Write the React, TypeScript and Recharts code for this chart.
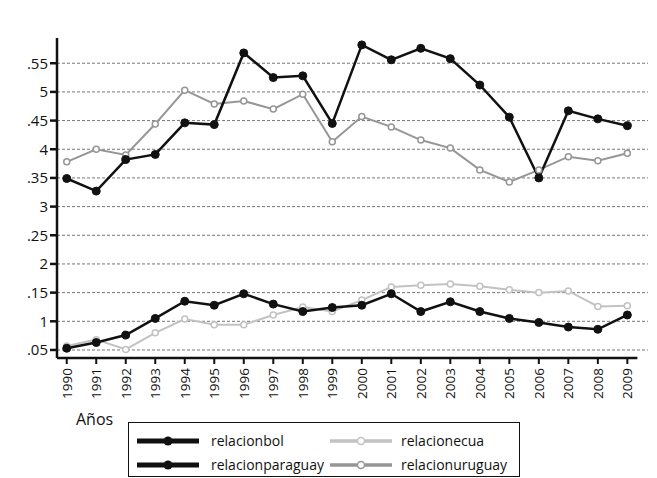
import { LineChart, Line, XAxis, YAxis, ReferenceLine } from "recharts";

const years = [
  1990, 1991, 1992, 1993, 1994, 1995, 1996, 1997, 1998, 1999,
  2000, 2001, 2002, 2003, 2004, 2005, 2006, 2007, 2008, 2009,
];

// upper black line
const relacionbol = [
  0.349, 0.327, 0.382, 0.391, 0.446, 0.443, 0.568, 0.525, 0.528, 0.445,
  0.582, 0.556, 0.576, 0.558, 0.512, 0.456, 0.35, 0.467, 0.453, 0.441,
];
// lower black line
const relacionparaguay = [
  0.053, 0.063, 0.076, 0.105, 0.135, 0.128, 0.148, 0.13, 0.117, 0.124,
  0.128, 0.148, 0.117, 0.134, 0.117, 0.105, 0.098, 0.09, 0.086, 0.111,
];
// lower light grey line
const relacionecua = [
  0.057, 0.068, 0.051, 0.08, 0.104, 0.094, 0.094, 0.111, 0.125, 0.117,
  0.137, 0.16, 0.163, 0.165, 0.161, 0.155, 0.15, 0.153, 0.126, 0.127,
];
// upper grey line
const relacionuruguay = [
  0.378, 0.4, 0.39, 0.444, 0.503, 0.479, 0.484, 0.47, 0.496, 0.413,
  0.457, 0.439, 0.416, 0.402, 0.364, 0.343, 0.364, 0.387, 0.38, 0.393,
];

const yTicks = [0.05, 0.1, 0.15, 0.2, 0.25, 0.3, 0.35, 0.4, 0.45, 0.5, 0.55];
const yLabels = [".05", "1", ".15", "2", ".25", "3", ".35", "4", ".45", "5", ".55"];

const data = years.map((y, i) => ({
  year: y,
  bol: relacionbol[i],
  par: relacionparaguay[i],
  ecu: relacionecua[i],
  uru: relacionuruguay[i],
}));

const FONT = "'Open Sans', 'DejaVu Sans', sans-serif";
const LIGHT = "#c2c2c2";
const MID = "#969696";
const Y_MIN = 0.036;
const Y_MAX = 0.594;
const X_MIN = 1989.67;
const X_MAX = 2009.7;

function YearTick({ x, y, payload }: any) {
  return (
    <g transform={`translate(${x},${y})`}>
      <text
        x={-2}
        y={0}
        dy={5}
        transform="rotate(-90)"
        textAnchor="end"
        fill="#111"
        fontSize={13.5}
        fontFamily={FONT}
      >
        {payload.value}
      </text>
    </g>
  );
}

function HollowDot({ cx, cy, stroke }: any) {
  if (cx == null || cy == null) return null;
  return <circle cx={cx} cy={cy} r={3} fill="#fff" stroke={stroke} strokeWidth={1.5} />;
}

function Sample({ color, hollow }: { color: string; hollow?: boolean }) {
  return (
    <svg width={62} height={12} style={{ display: "block" }}>
      <line x1={0} y1={6} x2={62} y2={6} stroke={color} strokeWidth={hollow ? 3.5 : 5} />
      {hollow ? (
        <circle cx={31} cy={6} r={3.5} fill="#fff" stroke={color} strokeWidth={1.5} />
      ) : (
        <circle cx={31} cy={6} r={4.5} fill={color} />
      )}
    </svg>
  );
}

const legendRows = [
  [
    { name: "relacionbol", color: "#111", hollow: false },
    { name: "relacionecua", color: LIGHT, hollow: true },
  ],
  [
    { name: "relacionparaguay", color: "#111", hollow: false },
    { name: "relacionuruguay", color: MID, hollow: true },
  ],
];

export default function App() {
  return (
    <div
      style={{
        position: "absolute",
        left: 0,
        top: 0,
        width: 657,
        height: 478,
        background: "#fff",
        fontFamily: FONT,
      }}
    >
      <LineChart
        width={657}
        height={478}
        data={data}
        margin={{ top: 38, right: 9, left: 7, bottom: 60 }}
      >
        <XAxis
          dataKey="year"
          type="number"
          domain={[X_MIN, X_MAX]}
          ticks={years}
          interval={0}
          height={60}
          tick={<YearTick />}
          tickSize={6}
          tickLine={{ stroke: "#111", strokeWidth: 2 }}
          axisLine={false}
        />
        <YAxis
          type="number"
          domain={[Y_MIN, Y_MAX]}
          ticks={yTicks}
          interval={0}
          width={50}
          tickSize={7}
          tickLine={{ stroke: "#111", strokeWidth: 2.5 }}
          axisLine={{ stroke: "#111", strokeWidth: 2.5 }}
          tick={{ fill: "#111", fontSize: 15, fontFamily: FONT }}
          tickFormatter={(v: number) => yLabels[yTicks.findIndex((t) => Math.abs(t - v) < 1e-6)]}
        />
        {yTicks.map((t) => (
          <ReferenceLine key={t} y={t} stroke="#777" strokeDasharray="3 2" />
        ))}
        <ReferenceLine
          segment={[
            { x: X_MIN, y: Y_MIN },
            { x: 2009.34, y: Y_MIN },
          ]}
          stroke="#111"
          strokeWidth={2.5}
        />
        <Line
          dataKey="ecu"
          stroke={LIGHT}
          strokeWidth={2}
          dot={<HollowDot stroke={LIGHT} />}
          isAnimationActive={false}
        />
        <Line
          dataKey="uru"
          stroke={MID}
          strokeWidth={2}
          dot={<HollowDot stroke={MID} />}
          isAnimationActive={false}
        />
        <Line
          dataKey="par"
          stroke="#111"
          strokeWidth={2.5}
          dot={{ r: 4, fill: "#111", stroke: "#111", strokeWidth: 1 }}
          isAnimationActive={false}
        />
        <Line
          dataKey="bol"
          stroke="#111"
          strokeWidth={2.5}
          dot={{ r: 4, fill: "#111", stroke: "#111", strokeWidth: 1 }}
          isAnimationActive={false}
        />
      </LineChart>

      <div
        style={{
          position: "absolute",
          left: 76,
          top: 408,
          fontSize: 16,
          color: "#111",
        }}
      >
        Años
      </div>

      <div
        style={{
          position: "absolute",
          left: 128,
          top: 422,
          width: 392,
          height: 55,
          border: "1.5px solid #111",
          boxSizing: "border-box",
          background: "#fff",
          fontSize: 14,
          color: "#111",
        }}
      >
        {legendRows.map((row, r) => (
          <div
            key={r}
            style={{
              position: "absolute",
              left: 0,
              top: r === 0 ? 8 : 32,
              height: 20,
              width: "100%",
            }}
          >
            {row.map((item, c) => (
              <div
                key={item.name}
                style={{
                  position: "absolute",
                  left: c === 0 ? 8 : 201,
                  top: 0,
                  display: "flex",
                  alignItems: "center",
                  height: 20,
                }}
              >
                <Sample color={item.color} hollow={item.hollow} />
                <span style={{ marginLeft: c === 0 ? 12 : 9, lineHeight: "20px" }}>
                  {item.name}
                </span>
              </div>
            ))}
          </div>
        ))}
      </div>
    </div>
  );
}
